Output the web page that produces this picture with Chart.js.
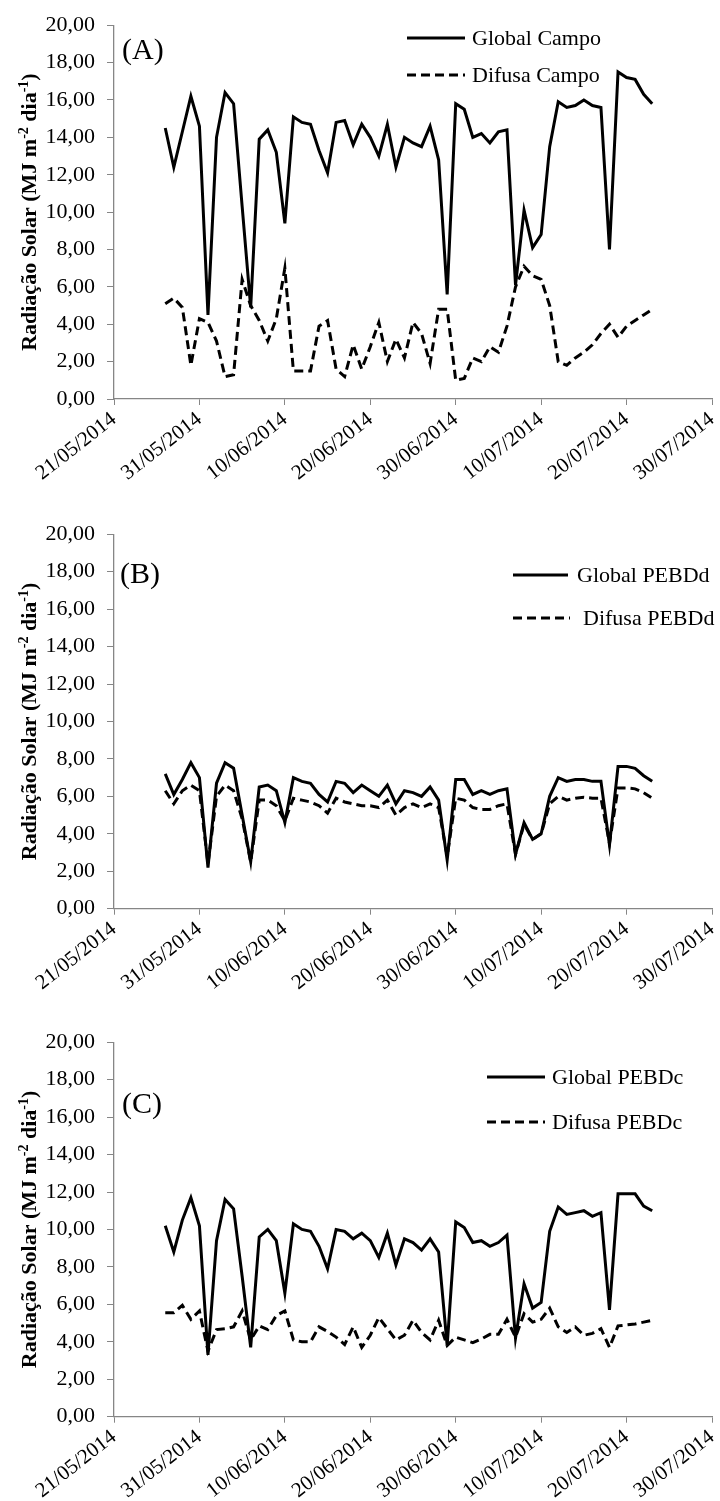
<!DOCTYPE html>
<html>
<head>
<meta charset="utf-8">
<script src="https://cdn.jsdelivr.net/npm/chart.js@4.4.1/dist/chart.umd.min.js"></script>
<style>
  body { margin: 0; background: #fff; width: 720px; height: 1501px; position: relative; overflow: hidden; }
  canvas { position: absolute; left: 0; }
</style>
</head>
<body>
<canvas id="gA" width="720" height="509" style="top:0"></canvas>
<canvas id="gB" width="720" height="509" style="top:509px"></canvas>
<canvas id="gC" width="720" height="484" style="top:1017px"></canvas>
<script>
/* dias com leitura (27/05 a 23/07/2014) */
const datas = [
  "27/05","28/05","29/05","30/05","31/05",
  "01/06","02/06","03/06","04/06","05/06","06/06","07/06","08/06","09/06","10/06",
  "11/06","12/06","13/06","14/06","15/06","16/06","17/06","18/06","19/06","20/06",
  "21/06","22/06","23/06","24/06","25/06","26/06","27/06","28/06","29/06","30/06",
  "01/07","02/07","03/07","04/07","05/07","06/07","07/07","08/07","09/07","10/07",
  "11/07","12/07","13/07","14/07","15/07","16/07","17/07","18/07","19/07","20/07",
  "21/07","22/07","23/07"
];
const rotulosX = ["21/05/2014","31/05/2014","10/06/2014","20/06/2014","30/06/2014","10/07/2014","20/07/2014","30/07/2014"];

/* (A) campo */
const globalCampo = [14.5,12.4,14.3,16.2,14.6,4.5,14.0,16.4,15.8,10.3,
  4.9,13.9,14.4,13.2,9.4,15.1,14.8,14.7,13.3,12.1,
  14.8,14.9,13.6,14.7,14.0,13.0,14.7,12.4,14.0,13.7,
  13.5,14.6,12.8,5.6,15.8,15.5,14.0,14.2,13.7,14.3,
  14.4,6.1,10.1,8.1,8.8,13.5,15.9,15.6,15.7,16.0,
  15.7,15.6,8.0,17.5,17.2,17.1,16.3,15.8];
const difusaCampo = [5.1,5.4,4.9,1.8,4.3,4.1,3.1,1.2,1.3,6.4,
  5.0,4.2,3.1,4.3,7.0,1.5,1.5,1.5,3.9,4.2,
  1.6,1.2,2.9,1.6,2.8,4.1,2.0,3.2,2.2,4.1,
  3.5,1.9,4.8,4.8,1.0,1.1,2.2,2.0,2.8,2.5,
  3.9,6.0,7.1,6.6,6.4,5.0,2.0,1.8,2.2,2.5,
  2.9,3.5,4.0,3.3,3.9,4.2,4.5,4.8];

/* (B) PEBDd */
const globalPEBDd = [7.2,6.1,6.9,7.8,7.0,2.2,6.7,7.8,7.5,5.0,
  2.5,6.5,6.6,6.3,4.6,7.0,6.8,6.7,6.1,5.7,
  6.8,6.7,6.2,6.6,6.3,6.0,6.6,5.6,6.3,6.2,
  6.0,6.5,5.8,2.6,6.9,6.9,6.1,6.3,6.1,6.3,
  6.4,2.9,4.6,3.7,4.0,6.0,7.0,6.8,6.9,6.9,
  6.8,6.8,3.4,7.6,7.6,7.5,7.1,6.8];
const difusaPEBDd = [6.3,5.6,6.3,6.6,6.3,2.4,6.0,6.6,6.3,4.8,
  2.5,5.8,5.8,5.5,4.7,5.9,5.8,5.7,5.5,5.1,
  5.9,5.7,5.6,5.5,5.5,5.4,5.8,5.0,5.4,5.6,
  5.4,5.6,5.4,2.8,5.9,5.8,5.4,5.3,5.3,5.5,
  5.6,2.9,4.5,3.7,4.0,5.6,6.0,5.8,5.9,5.95,
  5.9,5.9,3.5,6.45,6.45,6.4,6.2,5.9];

/* (C) PEBDc */
const globalPEBDc = [10.2,8.8,10.5,11.7,10.2,3.3,9.4,11.6,11.1,7.5,
  3.7,9.6,10.0,9.4,6.6,10.3,10.0,9.9,9.1,7.9,
  10.0,9.9,9.5,9.8,9.4,8.5,9.8,8.1,9.5,9.3,
  8.9,9.5,8.8,3.8,10.4,10.1,9.3,9.4,9.1,9.3,
  9.7,4.2,7.1,5.8,6.1,9.9,11.2,10.8,10.9,11.0,
  10.7,10.9,5.7,11.9,11.9,11.9,11.25,11.0];
const difusaPEBDc = [5.55,5.55,5.95,5.2,5.65,3.5,4.65,4.7,4.8,5.65,
  4.1,4.85,4.65,5.4,5.65,4.1,4.0,4.0,4.8,4.55,
  4.25,3.85,4.8,3.7,4.35,5.3,4.7,4.1,4.35,5.15,
  4.5,4.1,5.15,3.8,4.25,4.1,3.95,4.15,4.4,4.4,
  5.2,4.25,5.5,5.05,5.2,5.8,4.8,4.5,4.8,4.35,
  4.45,4.7,3.7,4.85,4.9,4.95,5.05,5.15];

const serif = "'Liberation Serif', 'Times New Roman', serif";
const cinza = "#868686";
const inicio = Date.UTC(2014, 4, 21);

// dia (desde 21/05) de cada leitura
const diaX = datas.map(s => {
  const [d, m] = s.split("/").map(Number);
  return (Date.UTC(2014, m - 1, d) - inicio) / 86400000;
});
const pontos = vals => vals.map((v, i) => ({ x: diaX[i], y: v }));

/* rótulo do painel, legenda e título do eixo y (com sobrescritos) */
const pluginPainel = {
  id: "painel",
  afterDraw(chart, args, op) {
    const ctx = chart.ctx, area = chart.chartArea;
    ctx.save();
    ctx.fillStyle = "#000";
    ctx.textAlign = "left";
    ctx.textBaseline = "middle";
    ctx.font = "30px " + serif;
    ctx.fillText(op.rotulo, op.rx, op.ry);

    ctx.font = "22px " + serif;
    chart.data.datasets.forEach((ds, i) => {
      const e = op.legenda[i];
      ctx.beginPath();
      ctx.lineWidth = ds.borderWidth;
      ctx.strokeStyle = ds.borderColor;
      ctx.setLineDash(ds.borderDash || []);
      ctx.moveTo(e.x1, e.y);
      ctx.lineTo(e.x2, e.y);
      ctx.stroke();
      ctx.fillText(ds.label, e.tx, e.y + 1);
    });
    ctx.setLineDash([]);

    const partes = [["Radiação Solar (MJ m", 0], ["-2", 1], [" dia", 0], ["-1", 1], [")", 0]];
    const fN = "bold 22px " + serif, fS = "bold 14px " + serif;
    let total = 0;
    partes.forEach(([t, s]) => { ctx.font = s ? fS : fN; total += ctx.measureText(t).width; });
    ctx.translate(36, (area.top + area.bottom) / 2);
    ctx.rotate(-Math.PI / 2);
    ctx.textBaseline = "alphabetic";
    let x = -total / 2;
    partes.forEach(([t, s]) => {
      ctx.font = s ? fS : fN;
      ctx.fillText(t, x, s ? -8 : 0);
      x += ctx.measureText(t).width;
    });
    ctx.restore();
  }
};

function grafico(id, nomes, global, difusa, painel) {
  const canvas = document.getElementById(id);
  return new Chart(canvas, {
    type: "line",
    data: {
      datasets: [
        { label: nomes[0], data: pontos(global), borderColor: "#000", borderWidth: 3, pointRadius: 0, tension: 0 },
        { label: nomes[1], data: pontos(difusa), borderColor: "#000", borderWidth: 3, borderDash: [9, 5], pointRadius: 0, tension: 0 },
      ],
    },
    options: {
      responsive: false, animation: false, devicePixelRatio: 1,
      layout: { padding: { top: painel.topo, right: 8, left: 0, bottom: 0 } },
      plugins: { legend: { display: false }, tooltip: { enabled: false }, painel },
      scales: {
        x: {
          type: "linear", min: 0, max: 70,
          grid: { drawOnChartArea: false, drawTicks: true, tickLength: 6, color: cinza },
          border: { color: cinza, width: 1.3 },
          ticks: {
            stepSize: 10, autoSkip: false, minRotation: 38, maxRotation: 38, padding: 2,
            color: "#000", font: { family: serif, size: 21 },
            callback: v => rotulosX[v / 10],
          },
          afterFit: s => { s.height = canvas.height - painel.base; s.paddingLeft = 0; s.paddingRight = 0; },
        },
        y: {
          min: 0, max: 20,
          grid: { drawOnChartArea: false, drawTicks: true, tickLength: 7, color: cinza },
          border: { color: cinza, width: 1.3 },
          ticks: {
            stepSize: 2, padding: 12, color: "#000", font: { family: serif, size: 22 },
            callback: v => v.toFixed(2).replace(".", ","),
          },
          afterFit: s => { s.width = 114; },
        },
      },
    },
    plugins: [pluginPainel],
  });
}

grafico("gA", ["Global Campo", "Difusa Campo"], globalCampo, difusaCampo, {
  topo: 24, base: 399, rotulo: "(A)", rx: 122, ry: 51,
  legenda: [{ x1: 407, x2: 465, y: 38, tx: 472 }, { x1: 407, x2: 465, y: 75, tx: 472 }],
});
grafico("gB", ["Global PEBDd", "Difusa PEBDd"], globalPEBDd, difusaPEBDd, {
  topo: 23.5, base: 399.7, rotulo: "(B)", rx: 120, ry: 66,
  legenda: [{ x1: 513, x2: 568, y: 66, tx: 577 }, { x1: 513, x2: 570, y: 109, tx: 583 }],
});
grafico("gC", ["Global PEBDc", "Difusa PEBDc"], globalPEBDc, difusaPEBDc, {
  topo: 24, base: 399.7, rotulo: "(C)", rx: 122, ry: 88,
  legenda: [{ x1: 487, x2: 545, y: 60, tx: 552 }, { x1: 487, x2: 545, y: 105, tx: 552 }],
});
</script>
</body>
</html>
